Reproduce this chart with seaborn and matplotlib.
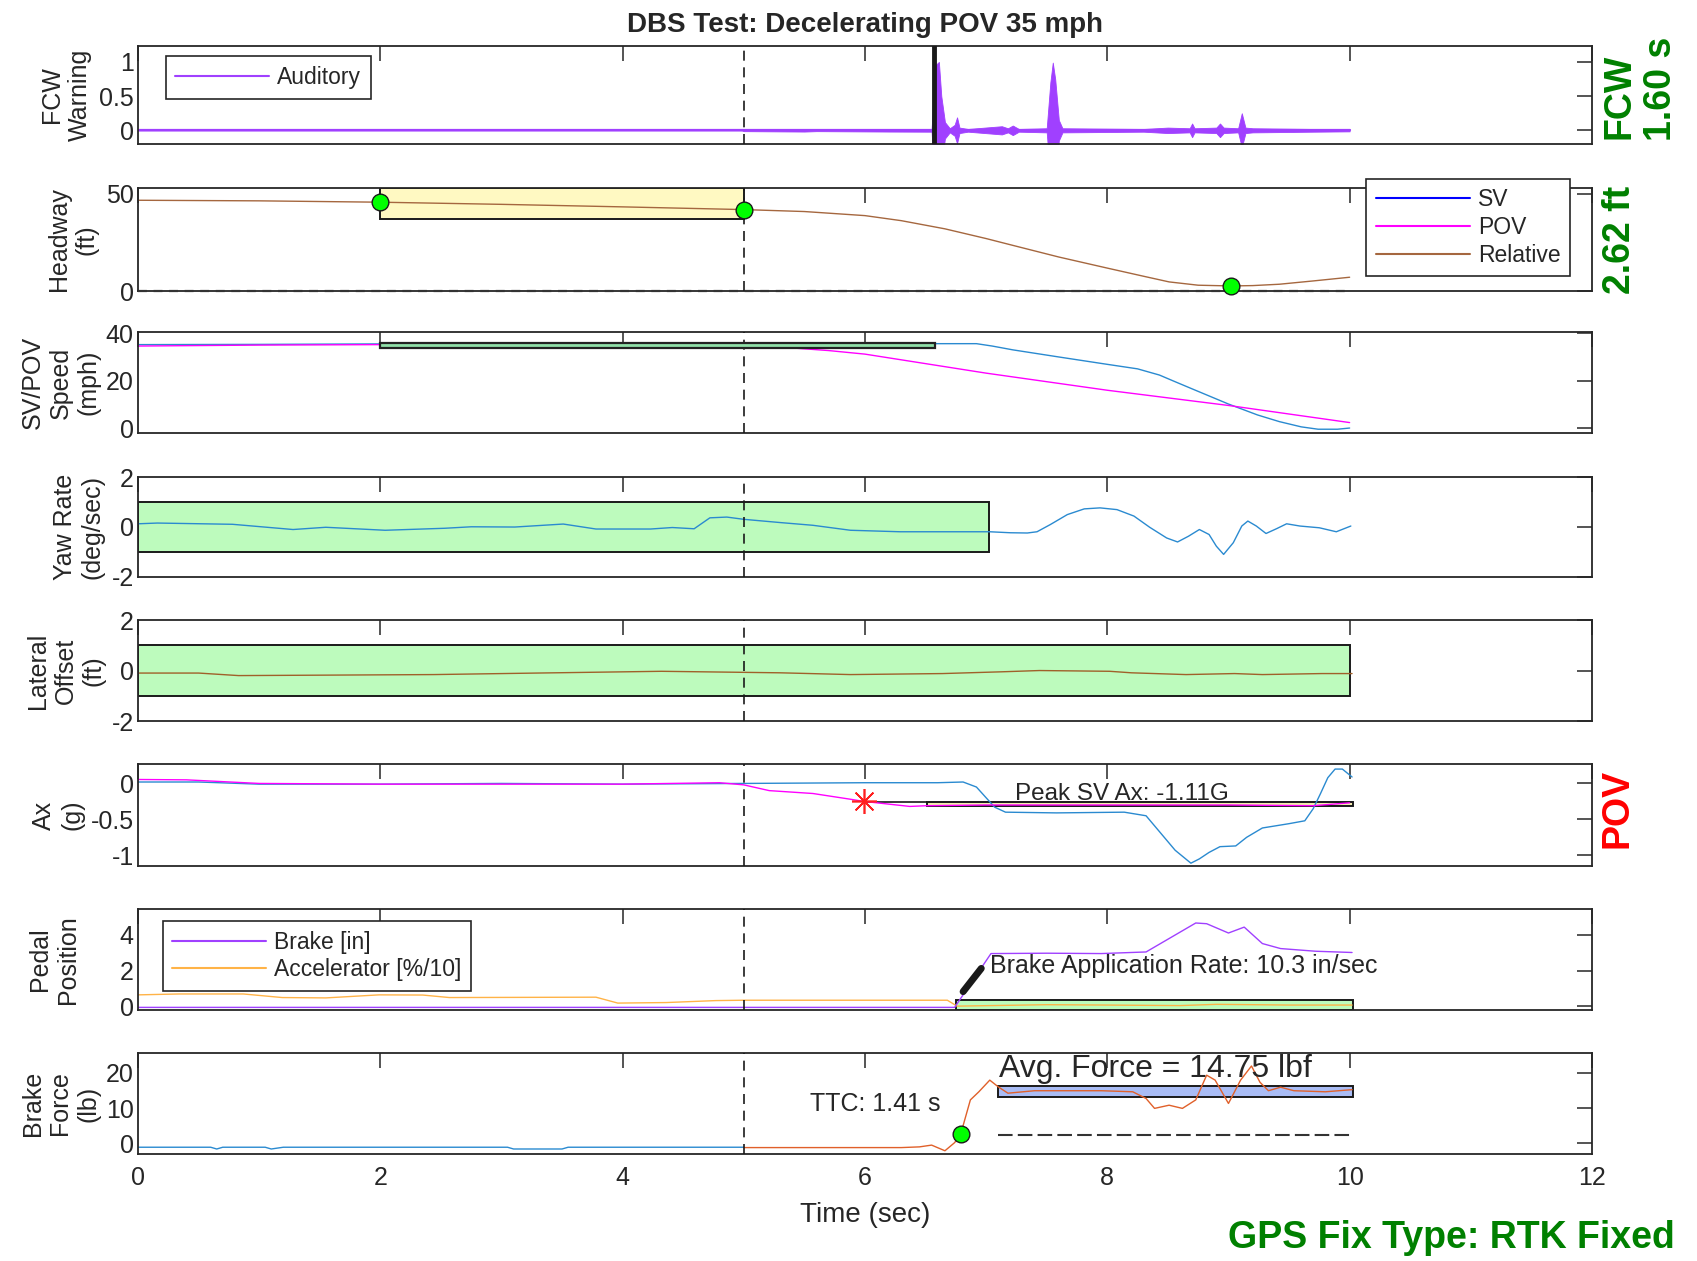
import numpy as np
import matplotlib.pyplot as plt
import seaborn as sns
from matplotlib.patches import Rectangle
from matplotlib.lines import Line2D

# ---------------- data ----------------
# FCW warning: auditory signal envelope
fcw_t = [0.0, 4.98, 5.0, 5.5, 5.6, 6.2, 6.55, 6.58, 6.61, 6.63, 6.66, 6.70, 6.74, 6.76,
         6.78, 6.85, 7.13, 7.18, 7.22, 7.27, 7.5, 7.53, 7.55, 7.57, 7.60, 7.63, 8.3, 8.5,
         8.68, 8.7, 8.72, 8.9, 8.93, 8.96, 9.08, 9.11, 9.14, 9.2, 9.7, 10.0]
fcw_amp = [0.0, 0.0, 0.012, 0.018, 0.012, 0.018, 0.02, 0.95, 1.0, 0.5, 0.12, 0.03, 0.08, 0.19,
           0.04, 0.02, 0.06, 0.03, 0.07, 0.02, 0.03, 0.7, 0.99, 0.75, 0.15, 0.03, 0.02, 0.04,
           0.03, 0.1, 0.03, 0.04, 0.1, 0.04, 0.03, 0.25, 0.04, 0.03, 0.02, 0.015]
fcw_base_t = [0.0, 10.0]
fcw_base = [0.0, 0.0]
fcw_onset = 6.57

# headway (ft)
hw_t = [0, 1.0, 2.0, 3.0, 4.0, 5.0, 5.5, 6.0, 6.3, 6.66, 7.0, 7.22, 7.6, 8.0, 8.3, 8.51,
        8.75, 9.02, 9.2, 9.42, 9.7, 10.0]
hw_rel = [46.7, 46.4, 45.7, 44.6, 43.3, 41.9, 40.9, 38.8, 36.2, 32.0, 27.0, 23.5, 17.5, 11.8,
          7.6, 4.7, 3.0, 2.62, 2.8, 3.5, 5.2, 7.1]
hw_dot_t = [2.0, 5.0, 9.02]
hw_dot_v = [45.7, 41.9, 2.62]
hw_box = [2.0, 5.0, 37.0, 53.0]

# speed (mph)
sv_t = [0, 1.0, 2.0, 3.0, 4.0, 5.0, 6.0, 6.6, 6.92, 7.05, 7.22, 7.6, 8.0, 8.25, 8.43, 8.55,
        8.69, 9.0, 9.24, 9.42, 9.6, 9.74, 9.9, 10.0]
sv_spd = [35.2, 35.3, 35.5, 35.5, 35.4, 35.5, 35.5, 35.6, 35.6, 34.6, 33.0, 30.0, 26.9, 25.0,
          22.4, 19.8, 16.8, 10.2, 5.6, 2.8, 0.6, -0.4, -0.4, 0.1]
pov_t = [0, 1.0, 2.0, 3.0, 4.0, 5.0, 5.37, 5.7, 6.0, 7.0, 8.0, 9.0, 10.0]
pov_spd = [34.6, 35.0, 35.2, 35.2, 35.1, 34.8, 33.9, 32.7, 31.2, 23.2, 16.0, 9.6, 2.4]
spd_box = [2.0, 6.58, 33.9, 36.0]

# yaw rate (deg/sec)
yaw_t = [0, 0.16, 0.78, 1.28, 1.55, 2.04, 2.53, 2.75, 3.11, 3.51, 3.78, 4.23, 4.41, 4.59,
         4.72, 4.86, 5.0, 5.30, 5.57, 5.88, 6.29, 7.03, 7.20, 7.34, 7.42, 7.53, 7.67, 7.81,
         7.94, 8.08, 8.22, 8.35, 8.49, 8.58, 8.67, 8.76, 8.84, 8.90, 8.96, 9.04, 9.11, 9.16,
         9.23, 9.31, 9.40, 9.48, 9.59, 9.75, 9.89, 10.01]
yaw = [0.12, 0.15, 0.1, -0.11, -0.02, -0.14, -0.06, 0.0, -0.01, 0.11, -0.09, -0.09, -0.03,
       -0.08, 0.36, 0.39, 0.3, 0.17, 0.06, -0.14, -0.2, -0.2, -0.24, -0.25, -0.2, 0.09, 0.49,
       0.72, 0.76, 0.69, 0.43, -0.02, -0.45, -0.61, -0.38, -0.11, -0.31, -0.78, -1.11, -0.64,
       0.03, 0.23, 0.03, -0.27, -0.07, 0.12, 0.03, -0.04, -0.2, 0.03]
yaw_box = [0.0, 7.02, -1.0, 1.0]

# lateral offset (ft)
lat_t = [0, 0.5, 0.83, 2.44, 3.29, 4.32, 5.3, 5.88, 6.64, 7.13, 7.44, 8.02, 8.2, 8.65, 9.05,
         9.28, 9.77, 10.02]
lat = [-0.1, -0.1, -0.2, -0.16, -0.1, -0.03, -0.09, -0.16, -0.12, -0.05, 0.0, -0.03, -0.09,
       -0.16, -0.12, -0.16, -0.12, -0.12]
lat_box = [0.0, 10.0, -1.0, 1.0]

# longitudinal acceleration (g)
sv_ax_t = [0, 0.5, 1.0, 2.0, 3.0, 4.0, 5.0, 6.0, 6.6, 6.81, 6.92, 7.07, 7.16, 7.58, 8.14,
           8.32, 8.42, 8.56, 8.69, 8.76, 8.84, 8.93, 9.06, 9.15, 9.28, 9.5, 9.63, 9.7, 9.76,
           9.82, 9.88, 9.94, 10.02]
sv_ax = [0.02, 0.02, -0.01, -0.01, 0.0, -0.01, 0.0, 0.01, 0.01, 0.02, -0.05, -0.33, -0.40,
         -0.41, -0.40, -0.45, -0.65, -0.93, -1.11, -1.05, -0.96, -0.88, -0.87, -0.75, -0.62,
         -0.56, -0.52, -0.35, -0.14, 0.08, 0.2, 0.2, 0.09]
pov_ax_t = [0, 0.4, 1.0, 2.0, 3.0, 4.0, 4.8, 5.0, 5.21, 5.57, 5.88, 5.99, 6.37, 6.51, 7.0,
            8.0, 9.0, 9.7, 10.0]
pov_ax = [0.055, 0.05, 0.0, -0.01, -0.01, -0.01, 0.01, -0.02, -0.1, -0.14, -0.22, -0.25,
          -0.32, -0.31, -0.3, -0.3, -0.3, -0.31, -0.27]
peak_pt = [5.99, -0.25]
ax_box = [6.51, 10.03, -0.32, -0.265]

# pedal position
brake_t = [0, 6.74, 7.04, 7.5, 7.95, 8.32, 8.73, 8.82, 9.0, 9.13, 9.28, 9.43, 9.72, 10.02]
brake = [-0.05, -0.05, 2.96, 2.98, 2.96, 3.05, 4.67, 4.63, 4.11, 4.44, 3.52, 3.24, 3.09, 3.02]
accel_t = [0, 0.34, 0.87, 1.19, 1.55, 1.99, 2.35, 2.57, 3.78, 3.96, 4.36, 4.77, 5.0, 6.68,
           6.76, 7.5, 8.0, 8.6, 8.9, 9.5, 10.02]
accel = [0.65, 0.7, 0.7, 0.5, 0.48, 0.65, 0.64, 0.5, 0.52, 0.19, 0.22, 0.33, 0.35, 0.35,
         0.02, 0.1, 0.08, 0.05, 0.12, 0.08, 0.08]
rate_t = [6.81, 6.96]
rate_v = [0.83, 2.13]
pedal_box = [6.75, 10.03, -0.2, 0.37]

# brake force (lb)
bf_pre_t = [0, 0.6, 0.65, 0.7, 1.05, 1.1, 1.2, 3.05, 3.1, 3.5, 3.55, 5.0]
bf_pre = [-1.1, -1.1, -1.6, -1.1, -1.1, -1.6, -1.1, -1.1, -1.6, -1.6, -1.1, -1.1]
bf_t = [5.0, 6.30, 6.45, 6.55, 6.66, 6.74, 6.79, 6.87, 6.94, 7.03, 7.10, 7.18, 7.40, 7.95,
        8.21, 8.32, 8.39, 8.51, 8.62, 8.73, 8.82, 8.89, 9.0, 9.10, 9.19, 9.26, 9.33, 9.43,
        9.54, 9.80, 10.02]
bf = [-1.2, -1.2, -1.0, -0.5, -2.1, 0.2, 2.6, 12.3, 14.6, 17.9, 16.0, 14.2, 14.9, 14.9, 14.6,
      12.7, 9.9, 10.8, 9.9, 12.3, 19.3, 17.9, 11.3, 17.9, 21.9, 17.3, 14.9, 15.9, 14.9, 14.6,
      15.2]
ttc_pt = [6.79, 2.6]
bf_box = [7.1, 10.03, 13.2, 16.2]
bf_ref_t = [7.1, 10.0]
bf_ref = [2.35, 2.35]

# ---------------- styling ----------------
sns.set_theme(style='white')
plt.rcParams['font.family'] = ['Liberation Sans', 'DejaVu Sans']
plt.rcParams['axes.unicode_minus'] = False

purple = '#A040FF'
blue = '#2A8AD0'
magenta = '#FF00FF'
brown = '#A5673F'
orange = '#E0602A'
amber = '#FFB347'
lgreen = '#BDFBBD'
dkgrey = '#262626'
green_txt = '#008000'

fig = plt.figure(figsize=(16.97, 12.61), dpi=100)
left, width = 0.0813, 0.8568
rows = [(0.8858, 0.0781), (0.7692, 0.0817), (0.6566, 0.0801), (0.5428, 0.0789),
        (0.4282, 0.0801), (0.3132, 0.0809), (0.1990, 0.0801), (0.0849, 0.0801)]
axs = [fig.add_axes([left, b, width, h]) for b, h in rows]

ylims = [(-0.2, 1.24), (0, 53), (-2, 40.5), (-2, 2), (-2, 2), (-1.15, 0.27), (-0.2, 5.45), (-3, 25.6)]
yticks = [[0, 0.5, 1], [0, 50], [0, 20, 40], [-2, 0, 2], [-2, 0, 2], [-1, -0.5, 0], [0, 2, 4], [0, 10, 20]]
ytlabels = [['0', '0.5', '1'], ['0', '50'], ['0', '20', '40'], ['-2', '0', '2'], ['-2', '0', '2'],
            ['-1', '-0.5', '0'], ['0', '2', '4'], ['0', '10', '20']]
ylabels = ['FCW\nWarning', 'Headway\n(ft)', 'SV/POV\nSpeed\n(mph)', 'Yaw Rate\n(deg/sec)',
           'Lateral\nOffset\n(ft)', 'Ax\n(g)', 'Pedal\nPosition', 'Brake\nForce\n(lb)']
ylab_x = [-0.032, -0.027, -0.026, -0.023, -0.022, -0.037, -0.040, -0.026]

for i, ax in enumerate(axs):
    ax.set_xlim(0, 12)
    ax.set_ylim(*ylims[i])
    ax.set_xticks(range(0, 13, 2))
    ax.set_yticks(yticks[i])
    ax.set_yticklabels(ytlabels[i])
    ax.tick_params(direction='in', length=10.5, width=1.1, color=dkgrey, labelsize=18,
                   top=True, right=True, labelcolor='#262626', pad=3)
    ax.tick_params(axis='x', pad=9)
    if i < 7:
        ax.set_xticklabels([])
    for s in ax.spines.values():
        s.set_linewidth(1.3)
        s.set_color(dkgrey)
    ax.set_ylabel(ylabels[i], fontsize=18, color='#262626')
    ax.yaxis.set_label_coords(ylab_x[i], 0.5)
    ax.axvline(5, color='k', lw=1.2, ls=(0, (6, 4)), zorder=3)


def box(ax, b, fc, lw=1.4):
    ax.add_patch(Rectangle((b[0], b[2]), b[1] - b[0], b[3] - b[2], facecolor=fc,
                           edgecolor='k', lw=lw, zorder=1))


def line(ax, x, y, c, lw=1.0, **kw):
    sns.lineplot(x=x, y=y, ax=ax, color=c, lw=lw, legend=False, estimator=None, **kw)


def leg(ax, handles, labels, anchor, loc):
    lg = ax.legend(handles, labels, loc=loc, bbox_to_anchor=anchor, fontsize=16.5,
                   frameon=True, fancybox=False, edgecolor=dkgrey, framealpha=1,
                   borderpad=0.42, handlelength=4.1, handletextpad=0.35,
                   labelspacing=0.2, borderaxespad=0)
    lg.get_frame().set_linewidth(1.2)
    lg.set_zorder(10)


# 1: FCW warning
ax = axs[0]
ax.fill_between(fcw_t, fcw_amp, -np.array(fcw_amp), color=purple, lw=0.6, zorder=2)
line(ax, fcw_base_t, fcw_base, purple, lw=1.6)
ax.axvline(fcw_onset, color='k', lw=3.5, zorder=4)
leg(ax, [Line2D([], [], color=purple, lw=1.5)], ['Auditory'], (0.019, 0.89), 'upper left')
ax.set_title('DBS Test: Decelerating POV 35 mph', fontsize=20, fontweight='bold', pad=10)

# 2: headway
ax = axs[1]
box(ax, hw_box, '#FFF9C2')
line(ax, hw_t, hw_rel, brown)
ax.plot([0, 10], [0, 0], color='#333333', lw=1.6, ls=(0, (4, 3)), clip_on=False, zorder=3)
ax.plot(hw_dot_t, hw_dot_v, 'o', ms=12, mfc='#00FF00', mec='k', mew=1.0, zorder=5,
        clip_on=False)
leg(ax, [Line2D([], [], color='#0000FF', lw=1.5), Line2D([], [], color=magenta, lw=1.5),
         Line2D([], [], color=brown, lw=1.5)], ['SV', 'POV', 'Relative'],
    (0.985, 1.09), 'upper right')

# 3: speed
ax = axs[2]
line(ax, sv_t, sv_spd, blue)
line(ax, pov_t, pov_spd, magenta)
ax.add_patch(Rectangle((spd_box[0], spd_box[2]), spd_box[1] - spd_box[0],
                       spd_box[3] - spd_box[2], facecolor='#8FE0A8', edgecolor='#222222',
                       lw=1.6, zorder=3))

# 4: yaw rate
ax = axs[3]
box(ax, yaw_box, lgreen)
line(ax, yaw_t, yaw, blue)

# 5: lateral offset
ax = axs[4]
box(ax, lat_box, lgreen)
line(ax, lat_t, lat, '#A0602A')

# 6: Ax
ax = axs[5]
box(ax, ax_box, '#F2EDB0', lw=1.4)
ax.hlines(ax_box[3], peak_pt[0], ax_box[0], color='k', lw=1.2, zorder=1)
line(ax, sv_ax_t, sv_ax, blue)
line(ax, pov_ax_t, pov_ax, magenta)
ax.plot([peak_pt[0]], [peak_pt[1]], marker=(8, 2, 0), ms=18, color='#FF2020', mew=1.2,
        zorder=5)
ax.text(7.24, -0.233, 'Peak SV Ax: -1.11G', fontsize=17.5, ha='left', va='baseline',
        zorder=6)

# 7: pedal position
ax = axs[6]
box(ax, pedal_box, lgreen)
line(ax, accel_t, accel, amber)
line(ax, brake_t, brake, purple)
line(ax, rate_t, rate_v, 'k', lw=5)
ax.text(7.03, 1.86, 'Brake Application Rate: 10.3 in/sec', fontsize=18, ha='left',
        va='baseline')
leg(ax, [Line2D([], [], color=purple, lw=1.5), Line2D([], [], color=amber, lw=1.5)],
    ['Brake [in]', 'Accelerator [%/10]'], (0.017, 0.88), 'upper left')

# 8: brake force
ax = axs[7]
box(ax, bf_box, '#A9BCF5')
line(ax, bf_pre_t, bf_pre, blue)
line(ax, bf_t, bf, orange)
ax.plot(bf_ref_t, bf_ref, color='#333333', lw=1.5, ls=(0, (7, 2.5)), zorder=2)
ax.plot([ttc_pt[0]], [ttc_pt[1]], 'o', ms=12, mfc='#00FF00', mec='k', mew=1.0, zorder=5)
ax.text(5.55, 9.2, 'TTC: 1.41 s', fontsize=18, ha='left', va='baseline')
ax.text(7.11, 18.9, 'Avg. Force = 14.75 lbf', fontsize=23, ha='left', va='baseline',
        zorder=6)
ax.set_xlabel('Time (sec)', fontsize=20, color='#262626', labelpad=8)

# side annotations
fig.text(0.9546, 0.9239, 'FCW', rotation=90, fontsize=27, fontweight='bold',
         color=green_txt, ha='center', va='center')
fig.text(0.9788, 0.9294, '1.60 s', rotation=90, fontsize=27, fontweight='bold',
         color=green_txt, ha='center', va='center')
fig.text(0.9546, 0.8097, '2.62 ft', rotation=90, fontsize=27, fontweight='bold',
         color=green_txt, ha='center', va='center')
fig.text(0.9534, 0.3592, 'POV', rotation=90, fontsize=27, fontweight='bold',
         color='#FF0000', ha='center', va='center')
fig.text(0.987, 0.0182, 'GPS Fix Type: RTK Fixed', fontsize=27, fontweight='bold',
         color=green_txt, ha='right', va='center')

fig.savefig('out.png', dpi=100)
